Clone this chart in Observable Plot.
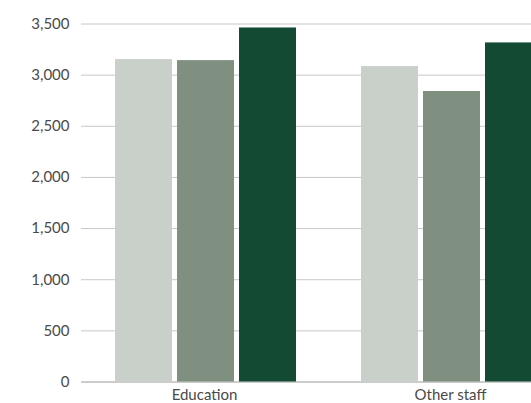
<!DOCTYPE html>
<html>
<head>
<meta charset="utf-8">
<script src="https://cdn.jsdelivr.net/npm/d3@7"></script>
<script src="https://cdn.jsdelivr.net/npm/@observablehq/plot@0.6"></script>
<style>
  html, body { margin: 0; padding: 0; background: #fff; overflow: hidden; }
  #chart { width: 531px; height: 403px; overflow: hidden; }
</style>
</head>
<body>
<div id="chart"></div>
<script>
const groups = ["Education", "Other staff"];
const series = ["Series 1", "Series 2", "Series 3"];
const educationValues = [3152, 3142, 3461];
const otherStaffValues = [3084, 2840, 3315];
const yTicks = [0, 500, 1000, 1500, 2000, 2500, 3000, 3500];
const colors = ["#c9cfc9", "#7f8f80", "#124a33"];

const rows = [];
[educationValues, otherStaffValues].forEach((vals, gi) => {
  vals.forEach((v, si) => rows.push({group: groups[gi], series: series[si], value: v}));
});

const chart = Plot.plot({
  width: 573,
  height: 403,
  marginLeft: 81,
  marginRight: 0,
  marginTop: 23.5,
  marginBottom: 21.5,
  style: {fontFamily: "Lato, sans-serif", fontSize: "15px", color: "#4a4a4a", background: "#fff", maxWidth: "none", overflow: "hidden"},
  facet: {data: rows, x: "group"},
  fx: {domain: groups, padding: 0, label: null, axis: "bottom", tickSize: 0, tickPadding: 7},
  x: {domain: series, axis: null, paddingInner: 0.0806, paddingOuter: 0.524, align: 0.527},
  y: {domain: [0, 3500], ticks: yTicks, tickFormat: d3.format(","), tickSize: 0, tickPadding: 12, label: null},
  color: {domain: series, range: colors},
  marks: [
    Plot.ruleY(yTicks.filter(d => d > 0), {stroke: "#c8c8c8", strokeWidth: 1}),
    Plot.ruleY([0], {stroke: "#9a9a9a", strokeWidth: 1}),
    Plot.barY(rows, {x: "series", y: "value", fill: "series"})
  ]
});
document.getElementById("chart").appendChild(chart);
</script>
</body>
</html>
